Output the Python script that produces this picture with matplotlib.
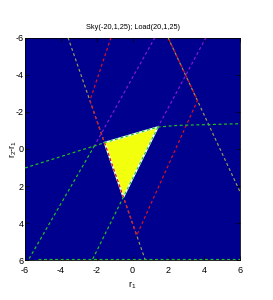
import matplotlib
matplotlib.use("Agg")
import matplotlib.pyplot as plt

plt.rcParams['font.family'] = ['Liberation Sans', 'DejaVu Sans']
plt.rcParams['mathtext.default'] = 'regular'
plt.rcParams['axes.unicode_minus'] = False

# feasible region (yellow triangle), r1 / r2-r1 coordinates
tri_x = [-1.56, 1.42, -0.51]
tri_y = [-0.34, -1.18, 2.59]

# constraint curves
gray_a_x = [-3.6, 0.72]
gray_a_y = [-6.0, 6.0]
gray_b_x = [1.98, 6.0]
gray_b_y = [-6.0, 2.3]
red_x = [-1.2, -2.38, 0.235, 3.63, 1.98]
red_y = [-6.0, -2.6, 4.65, -2.62, -6.0]
purple_a_x = [1.25, -2.12]
purple_a_y = [-6.0, -0.18]
purple_b_x = [4.1, 1.42]
purple_b_y = [-6.0, -1.18]
green_top_x = [-6.0, -1.56, 1.42, 2.5, 6.0]
green_top_y = [1.02, -0.34, -1.18, -1.27, -1.36]
green_left_x = [-2.12, -5.83]
green_left_y = [-0.18, 6.0]
green_right_x = [1.42, -2.26]
green_right_y = [-1.18, 6.0]
green_bot_x = [-5.27, 6.0]
green_bot_y = [5.93, 5.93]

ticks = [-6, -4, -2, 0, 2, 4, 6]

fig = plt.figure(figsize=(2.73, 3.0), dpi=100)
ax = fig.add_axes([0.0916, 0.1317, 0.7875, 0.7433])
ax.set_facecolor('#00008f')

ax.fill(tri_x, tri_y, facecolor='#f2ff0d', edgecolor='#f0ffff', linewidth=1.3, zorder=2)

dash = (0, (2.5, 2.2))
lw = 0.85
ax.plot(gray_a_x, gray_a_y, color='#9a9a58', ls=dash, lw=lw, zorder=3)
ax.plot(gray_b_x, gray_b_y, color='#9a9a58', ls=dash, lw=lw, zorder=3)
ax.plot(red_x, red_y, color='#e01020', ls=dash, lw=lw, zorder=4)
ax.plot(purple_a_x, purple_a_y, color='#8a18d8', ls=dash, lw=lw, zorder=3)
ax.plot(purple_b_x, purple_b_y, color='#8a18d8', ls=dash, lw=lw, zorder=3)
for gx, gy in [(green_top_x, green_top_y), (green_left_x, green_left_y),
               (green_right_x, green_right_y), (green_bot_x, green_bot_y)]:
    ax.plot(gx, gy, color='#22c022', ls=dash, lw=lw, zorder=5)

ax.set_xlim(-6, 6)
ax.set_ylim(6, -6)
ax.set_xticks(ticks)
ax.set_yticks(ticks)
ax.tick_params(direction='in', length=3, width=0.5, top=True, right=True,
               labelsize=6.5)
ax.tick_params(axis='x', pad=4)
ax.tick_params(axis='y', pad=1)
for s in ax.spines.values():
    s.set_linewidth(0.6)

ax.set_title('Sky(-20,1,25); Load(20,1,25)', fontsize=5.3, pad=6)
ax.set_xlabel('r$_1$', fontsize=6.5, labelpad=3)
ax.set_ylabel('r$_2$-r$_1$', fontsize=6.5)
ax.yaxis.set_label_coords(-0.03, 0.5)

fig.savefig('out.png', dpi=100)
